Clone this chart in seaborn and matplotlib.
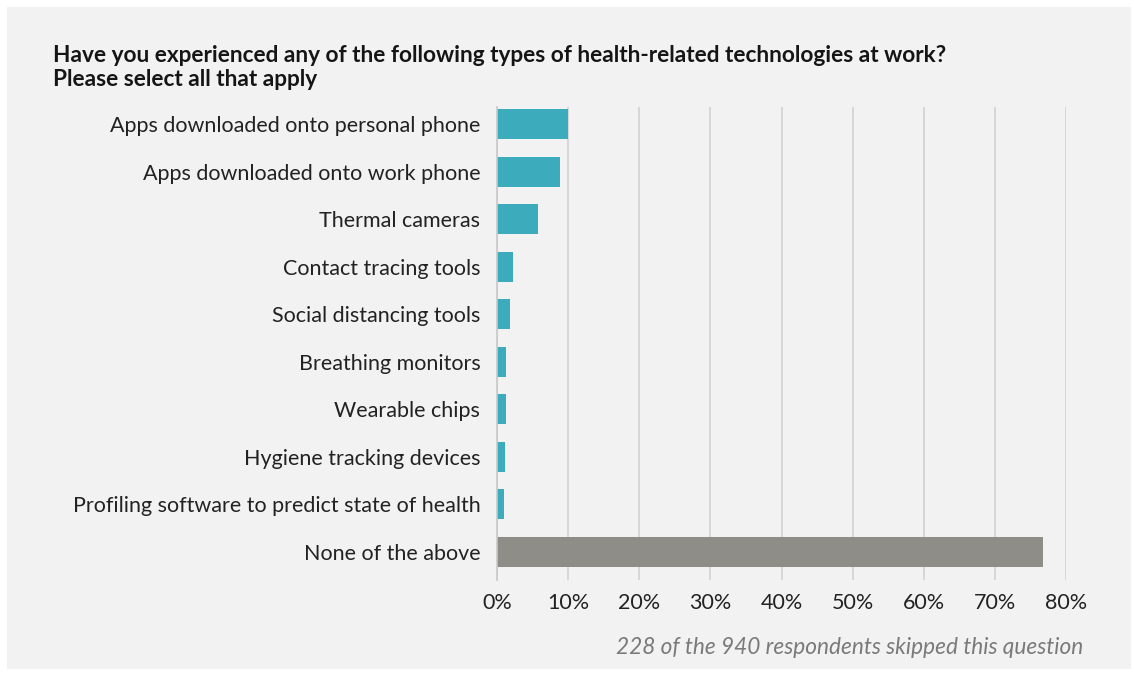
import matplotlib
matplotlib.use("Agg")
import matplotlib.pyplot as plt
from matplotlib.patches import Rectangle
import seaborn as sns
import pandas as pd

categories = [
    "Apps downloaded onto personal phone",
    "Apps downloaded onto work phone",
    "Thermal cameras",
    "Contact tracing tools",
    "Social distancing tools",
    "Breathing monitors",
    "Wearable chips",
    "Hygiene tracking devices",
    "Profiling software to predict state of health",
    "None of the above",
]
values = [10.0, 8.9, 5.8, 2.3, 1.8, 1.3, 1.3, 1.1, 1.0, 76.8]
x_ticks = [0, 10, 20, 30, 40, 50, 60, 70, 80]
x_tick_labels = [f"{t}%" for t in x_ticks]

title = ("Have you experienced any of the following types of health-related technologies at work?\n"
         "Please select all that apply")
footnote = "228 of the 940 respondents skipped this question"

TEAL = "#3cacbc"
GREY = "#8f8d88"
PANEL = "#f2f2f2"
TEXT = "#222222"

sns.set_theme(style="white")
plt.rcParams["font.family"] = ["Lato", "DejaVu Sans"]

df = pd.DataFrame({"category": categories, "value": values})
palette = {c: (GREY if c == "None of the above" else TEAL) for c in categories}

W, H = 1134, 673
fig = plt.figure(figsize=(W / 100, H / 100), dpi=100)
fig.patch.set_facecolor("white")
fig.patches.append(Rectangle((7 / W, 4 / H), (W - 10) / W, (H - 11) / H,
                             transform=fig.transFigure, facecolor=PANEL,
                             edgecolor="none", zorder=-10))

ax = fig.add_axes([497 / W, (H - 580) / H, (1066 - 497) / W, (580 - 107) / H])
ax.set_facecolor("none")

sns.barplot(data=df, x="value", y="category", hue="category", palette=palette,
            order=categories, hue_order=categories, legend=False, width=0.63,
            saturation=1, linewidth=0, edgecolor="none", ax=ax, zorder=3)

ax.set_xlim(0, 80)
ax.set_ylim(9.589, -0.357)
ax.set_xticks(x_ticks)
ax.set_xticklabels(x_tick_labels)
ax.xaxis.grid(True, color="#d2d2d2", linewidth=1.2, zorder=0)
ax.yaxis.grid(False)
for s in ["top", "right", "bottom"]:
    ax.spines[s].set_visible(False)
ax.spines["left"].set_color("#c8c8c8")
ax.spines["left"].set_linewidth(1.2)
ax.spines["left"].set_zorder(4)
ax.tick_params(axis="x", length=0, pad=9.5, labelsize=15.5, labelcolor=TEXT)
ax.tick_params(axis="y", length=0, pad=12, labelsize=15.5, labelcolor=TEXT)
ax.set_xlabel("")
ax.set_ylabel("")

fig.text(53 / W, 1 - 45 / H, title, ha="left", va="top", fontsize=16.3,
         fontweight="bold", color="#151515", linespacing=1.2)
fig.text(1083 / W, 1 - 648 / H, footnote, ha="right", va="center", fontsize=16.3,
         style="italic", color="#7a7a7a")

fig.savefig("out.png", dpi=100, facecolor=fig.get_facecolor())
